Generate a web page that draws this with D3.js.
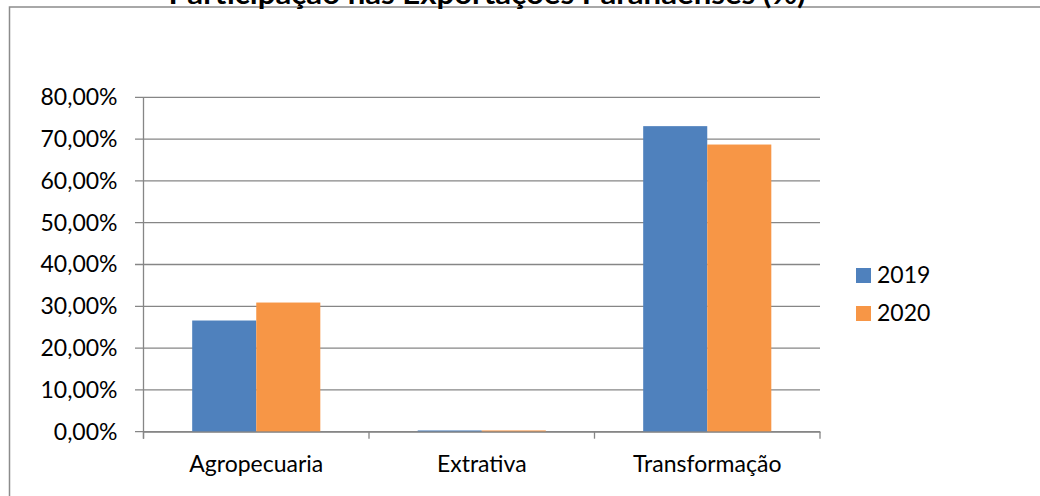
<!DOCTYPE html>
<html>
<head>
<meta charset="utf-8">
<script src="https://cdn.jsdelivr.net/npm/d3@7"></script>
<style>
  html, body { margin: 0; padding: 0; background: #fff; }
  svg { display: block; font-family: Lato, "Open Sans", sans-serif; }
</style>
</head>
<body>
<svg id="chart" width="1040" height="496"></svg>
<script>
// Participação nas Exportações Paranaenses (%) — grouped bars, Excel style.
const categories = ['Agropecuaria', 'Extrativa', 'Transformação'];
const series = ['2019', '2020'];
const values2019 = [26.6, 0.3, 73.1];
const values2020 = [30.9, 0.3, 68.7];
const yTicks = [0, 10, 20, 30, 40, 50, 60, 70, 80];
const colors = ['#4F81BD', '#F79646'];

const svg = d3.select('#chart');
const grid = '#868686';

// outer chart frame (runs off right/bottom edges)
svg.append('rect')
  .attr('x', 9.5).attr('y', 7)
  .attr('width', 1100).attr('height', 600)
  .attr('fill', 'none').attr('stroke', '#8c8c8c').attr('stroke-width', 1.5);

// title, clipped at the top like the original
svg.append('text')
  .attr('x', 487).attr('y', 4)
  .attr('text-anchor', 'middle')
  .attr('textLength', 637).attr('lengthAdjust', 'spacingAndGlyphs')
  .style('font-weight', 'bold').style('font-size', '28px')
  .text('Participação nas Exportações Paranaenses (%)');

const x = d3.scaleBand().domain(categories).range([143.5, 820]);
const xs = d3.scaleBand().domain(series).range([0, x.bandwidth()]).paddingOuter(0.76);
const y = d3.scaleLinear().domain([0, 80]).range([431.7, 97.3]);

// gridlines
svg.append('g')
  .selectAll('line').data(yTicks).enter().append('line')
  .attr('x1', 135).attr('x2', 820)
  .attr('y1', d => y(d)).attr('y2', d => y(d))
  .attr('stroke', grid).attr('stroke-width', 1.3);

// bars
const data = categories.map((c, i) => ({ cat: c, vals: [values2019[i], values2020[i]] }));
svg.append('g')
  .selectAll('g').data(data).enter().append('g')
  .attr('transform', d => `translate(${x(d.cat)},0)`)
  .selectAll('rect').data(d => d.vals.map((v, j) => ({ s: series[j], v, j })))
  .enter().append('rect')
  .attr('x', d => xs(d.s))
  .attr('width', xs.bandwidth())
  .attr('y', d => y(d.v))
  .attr('height', d => y(0) - y(d.v))
  .attr('fill', d => colors[d.j]);

// y axis
const yAxis = svg.append('g').attr('transform', 'translate(143.5,0)')
  .call(d3.axisLeft(y).tickValues(yTicks).tickSize(0).tickPadding(26)
    .tickFormat(d => d3.format('.2f')(d).replace('.', ',') + '%'));
yAxis.select('.domain').attr('stroke', grid).attr('stroke-width', 1.3)
  .attr('d', `M0,${y(80)}V${y(0) + 7}`);
yAxis.selectAll('text').style('font-size', '23px').style('font-family', 'Lato').attr('fill', '#000');

// x axis
const xAxis = svg.append('g').attr('transform', `translate(0,${y(0)})`)
  .call(d3.axisBottom(x).tickSize(0).tickPadding(24));
xAxis.select('.domain').attr('stroke', grid).attr('stroke-width', 1.3);
xAxis.selectAll('text').style('font-size', '23px').style('font-family', 'Lato').attr('fill', '#000');
svg.append('g').selectAll('line')
  .data(x.range().concat(categories.slice(1).map(c => x(c))))
  .enter().append('line')
  .attr('x1', d => d).attr('x2', d => d)
  .attr('y1', y(0)).attr('y2', y(0) + 7)
  .attr('stroke', grid).attr('stroke-width', 1.3);

// legend
const leg = svg.append('g').selectAll('g').data(series).enter().append('g')
  .attr('transform', (d, i) => `translate(856,${268 + i * 38})`);
leg.append('rect').attr('width', 15).attr('height', 15).attr('fill', (d, i) => colors[i]);
leg.append('text').attr('x', 21).attr('y', 15)
  .style('font-size', '23px').text(d => d);
</script>
</body>
</html>
